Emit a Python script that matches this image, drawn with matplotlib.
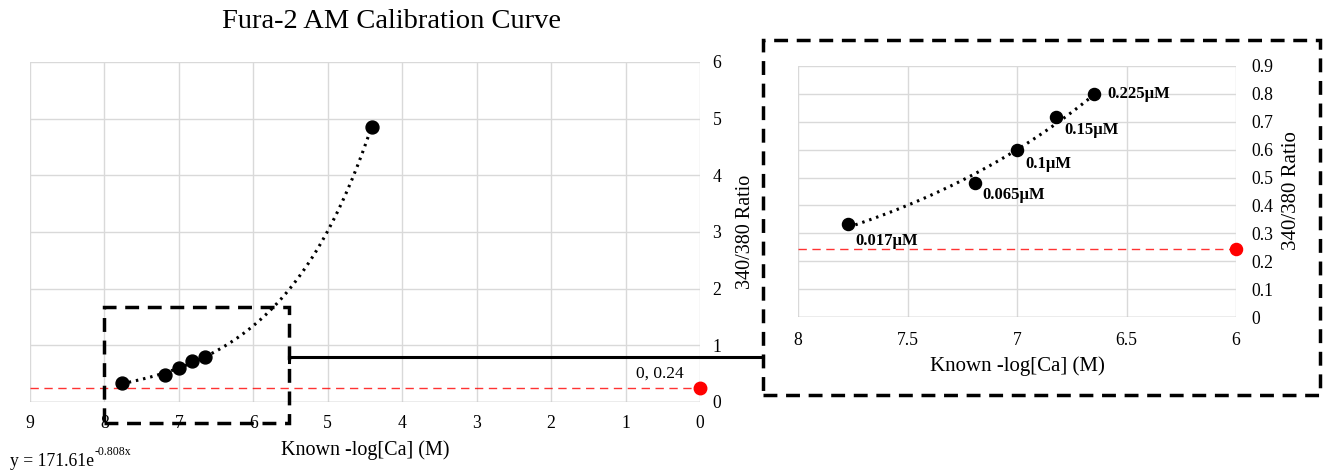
import numpy as np
import matplotlib
matplotlib.use("Agg")
import matplotlib.pyplot as plt
from matplotlib.lines import Line2D
from matplotlib.patches import Rectangle

plt.rcParams['font.family'] = ['Liberation Serif', 'DejaVu Serif']

# ---- data ----
conc_labels = ["0.017µM", "0.065µM", "0.1µM", "0.15µM", "0.225µM"]
neg_log_ca = [7.77, 7.19, 7.00, 6.82, 6.65]
ratio = [0.333, 0.482, 0.600, 0.717, 0.800]
high_x = 4.40
high_ratio = 4.86
zero_x = 0
zero_ratio = 0.245
fit_A = 171.61
fit_k = -0.808

main_xticks = [9, 8, 7, 6, 5, 4, 3, 2, 1, 0]
main_yticks = [0, 1, 2, 3, 4, 5, 6]
inset_xticks = [8, 7.5, 7, 6.5, 6]
inset_xticklabels = ["8", "7.5", "7", "6.5", "6"]
inset_yticks = [0, 0.1, 0.2, 0.3, 0.4, 0.5, 0.6, 0.7, 0.8, 0.9]
inset_yticklabels = ["0", "0.1", "0.2", "0.3", "0.4", "0.5", "0.6", "0.7", "0.8", "0.9"]

W, H = 1325, 470
fig = plt.figure(figsize=(W / 100, H / 100), dpi=100)

def px_rect(l, t, r, b):
    return [l / W, (H - b) / H, (r - l) / W, (b - t) / H]

GRID = '#d9d9d9'
TICK_FS = 12.7

def style(ax):
    for s in ax.spines.values():
        s.set_visible(False)
    ax.grid(True, color=GRID, lw=1.0)
    ax.set_axisbelow(True)
    ax.tick_params(length=0, labelsize=TICK_FS)
    ax.yaxis.tick_right()

# ---- main axes ----
ax = fig.add_axes(px_rect(30, 62, 700, 402))
style(ax)
ax.set_xlim(9, 0)
ax.set_ylim(0, 6)
ax.set_xticks(main_xticks)
ax.set_yticks(main_yticks)
ax.tick_params(axis='x', pad=9)
ax.tick_params(axis='y', pad=9)
ax.axhline(0, color='#bfbfbf', lw=1.0)

all_x = neg_log_ca + [high_x]
all_y = ratio + [high_ratio]
xf = np.linspace(max(all_x), min(all_x), 200)
ax.plot(xf, fit_A * np.exp(fit_k * xf), color='black', lw=2.2, ls=(0, (0.8, 1.6)))
ax.plot(all_x, all_y, 'o', color='black', ms=9.3, zorder=5)
ax.plot([9, zero_x], [zero_ratio, zero_ratio], color='red', lw=1.0, ls=(0, (6, 4)), alpha=0.8)
ax.plot([zero_x], [zero_ratio], 'o', color='red', ms=9, clip_on=False, zorder=6)
ax.annotate(f"{zero_x}, {zero_ratio:.2f}", (zero_x, zero_ratio), xytext=(-12, 5),
            textcoords='offset points', ha='right', va='bottom', fontsize=12.5)

fig.text(392 / W, 1 - 22 / H, "Fura-2 AM Calibration Curve", ha='center', va='center', fontsize=20.5)
fig.text(365 / W, 1 - 450 / H, "Known -log[Ca] (M)", ha='center', va='center', fontsize=14.5)
fig.text(745 / W, 1 - 232 / H, "340/380 Ratio", ha='center', va='center', rotation=90, fontsize=14.5)

t_eq = fig.text(10 / W, 1 - 462 / H, f"y = {fit_A:.2f}e", ha='left', va='center', fontsize=12.7)
ax.annotate(f"{fit_k:.3f}x", xy=(1, 1), xycoords=t_eq, xytext=(0.5, -3),
            textcoords='offset points', ha='left', va='bottom', fontsize=8.5,
            annotation_clip=False)

# ---- inset axes ----
ax2 = fig.add_axes(px_rect(798, 66, 1236, 317))
style(ax2)
ax2.set_xlim(8, 6)
ax2.set_ylim(0, 0.9)
ax2.set_xticks(inset_xticks)
ax2.set_xticklabels(inset_xticklabels)
ax2.set_yticks(inset_yticks)
ax2.set_yticklabels(inset_yticklabels)
ax2.tick_params(axis='x', pad=11)
ax2.tick_params(axis='y', pad=11)
ax2.axhline(0, color='#bfbfbf', lw=1.0)

xf2 = np.linspace(max(neg_log_ca), min(neg_log_ca), 100)
ax2.plot(xf2, fit_A * np.exp(fit_k * xf2), color='black', lw=2.2, ls=(0, (0.8, 1.6)))
ax2.plot(neg_log_ca, ratio, 'o', color='black', ms=8.7, zorder=5)
ax2.plot([8, 6], [zero_ratio, zero_ratio], color='red', lw=1.0, ls=(0, (6, 4)), alpha=0.8)
ax2.plot([6], [zero_ratio], 'o', color='red', ms=8.7, clip_on=False, zorder=6)

offsets = [(5, -12), (5, -9), (6, -10), (6, -9), (10, 0)]
for lab, x, y, (dx, dy) in zip(conc_labels, neg_log_ca, ratio, offsets):
    ax2.annotate(lab, (x, y), xytext=(dx, dy), textcoords='offset points',
                 ha='left', va='center', fontsize=12, fontweight='bold')

fig.text(1017 / W, 1 - 366 / H, "Known -log[Ca] (M)", ha='center', va='center', fontsize=15)
fig.text(1292 / W, 1 - 191 / H, "340/380 Ratio", ha='center', va='center', rotation=90, fontsize=15)

# ---- callout shapes (figure pixel coords) ----
dash = (0, (4, 2.5))
def fig_rect(l, t, r, b, lw):
    fig.patches.append(Rectangle((l / W, (H - b) / H), (r - l) / W, (b - t) / H,
                                 transform=fig.transFigure, fill=False, ec='black',
                                 lw=lw, ls=dash))
fig_rect(104, 307, 289, 423, 2.5)
fig_rect(763, 40, 1320, 395, 2.5)
fig.lines.append(Line2D([289 / W, 763 / W], [1 - 357 / H, 1 - 357 / H],
                        transform=fig.transFigure, color='black', lw=2.2))
fig.lines.append(Line2D([289 / W, 289 / W], [1 - 357 / H, 1 - 362 / H],
                        transform=fig.transFigure, color='black', lw=2.2))

fig.savefig("out.png", dpi=100)
